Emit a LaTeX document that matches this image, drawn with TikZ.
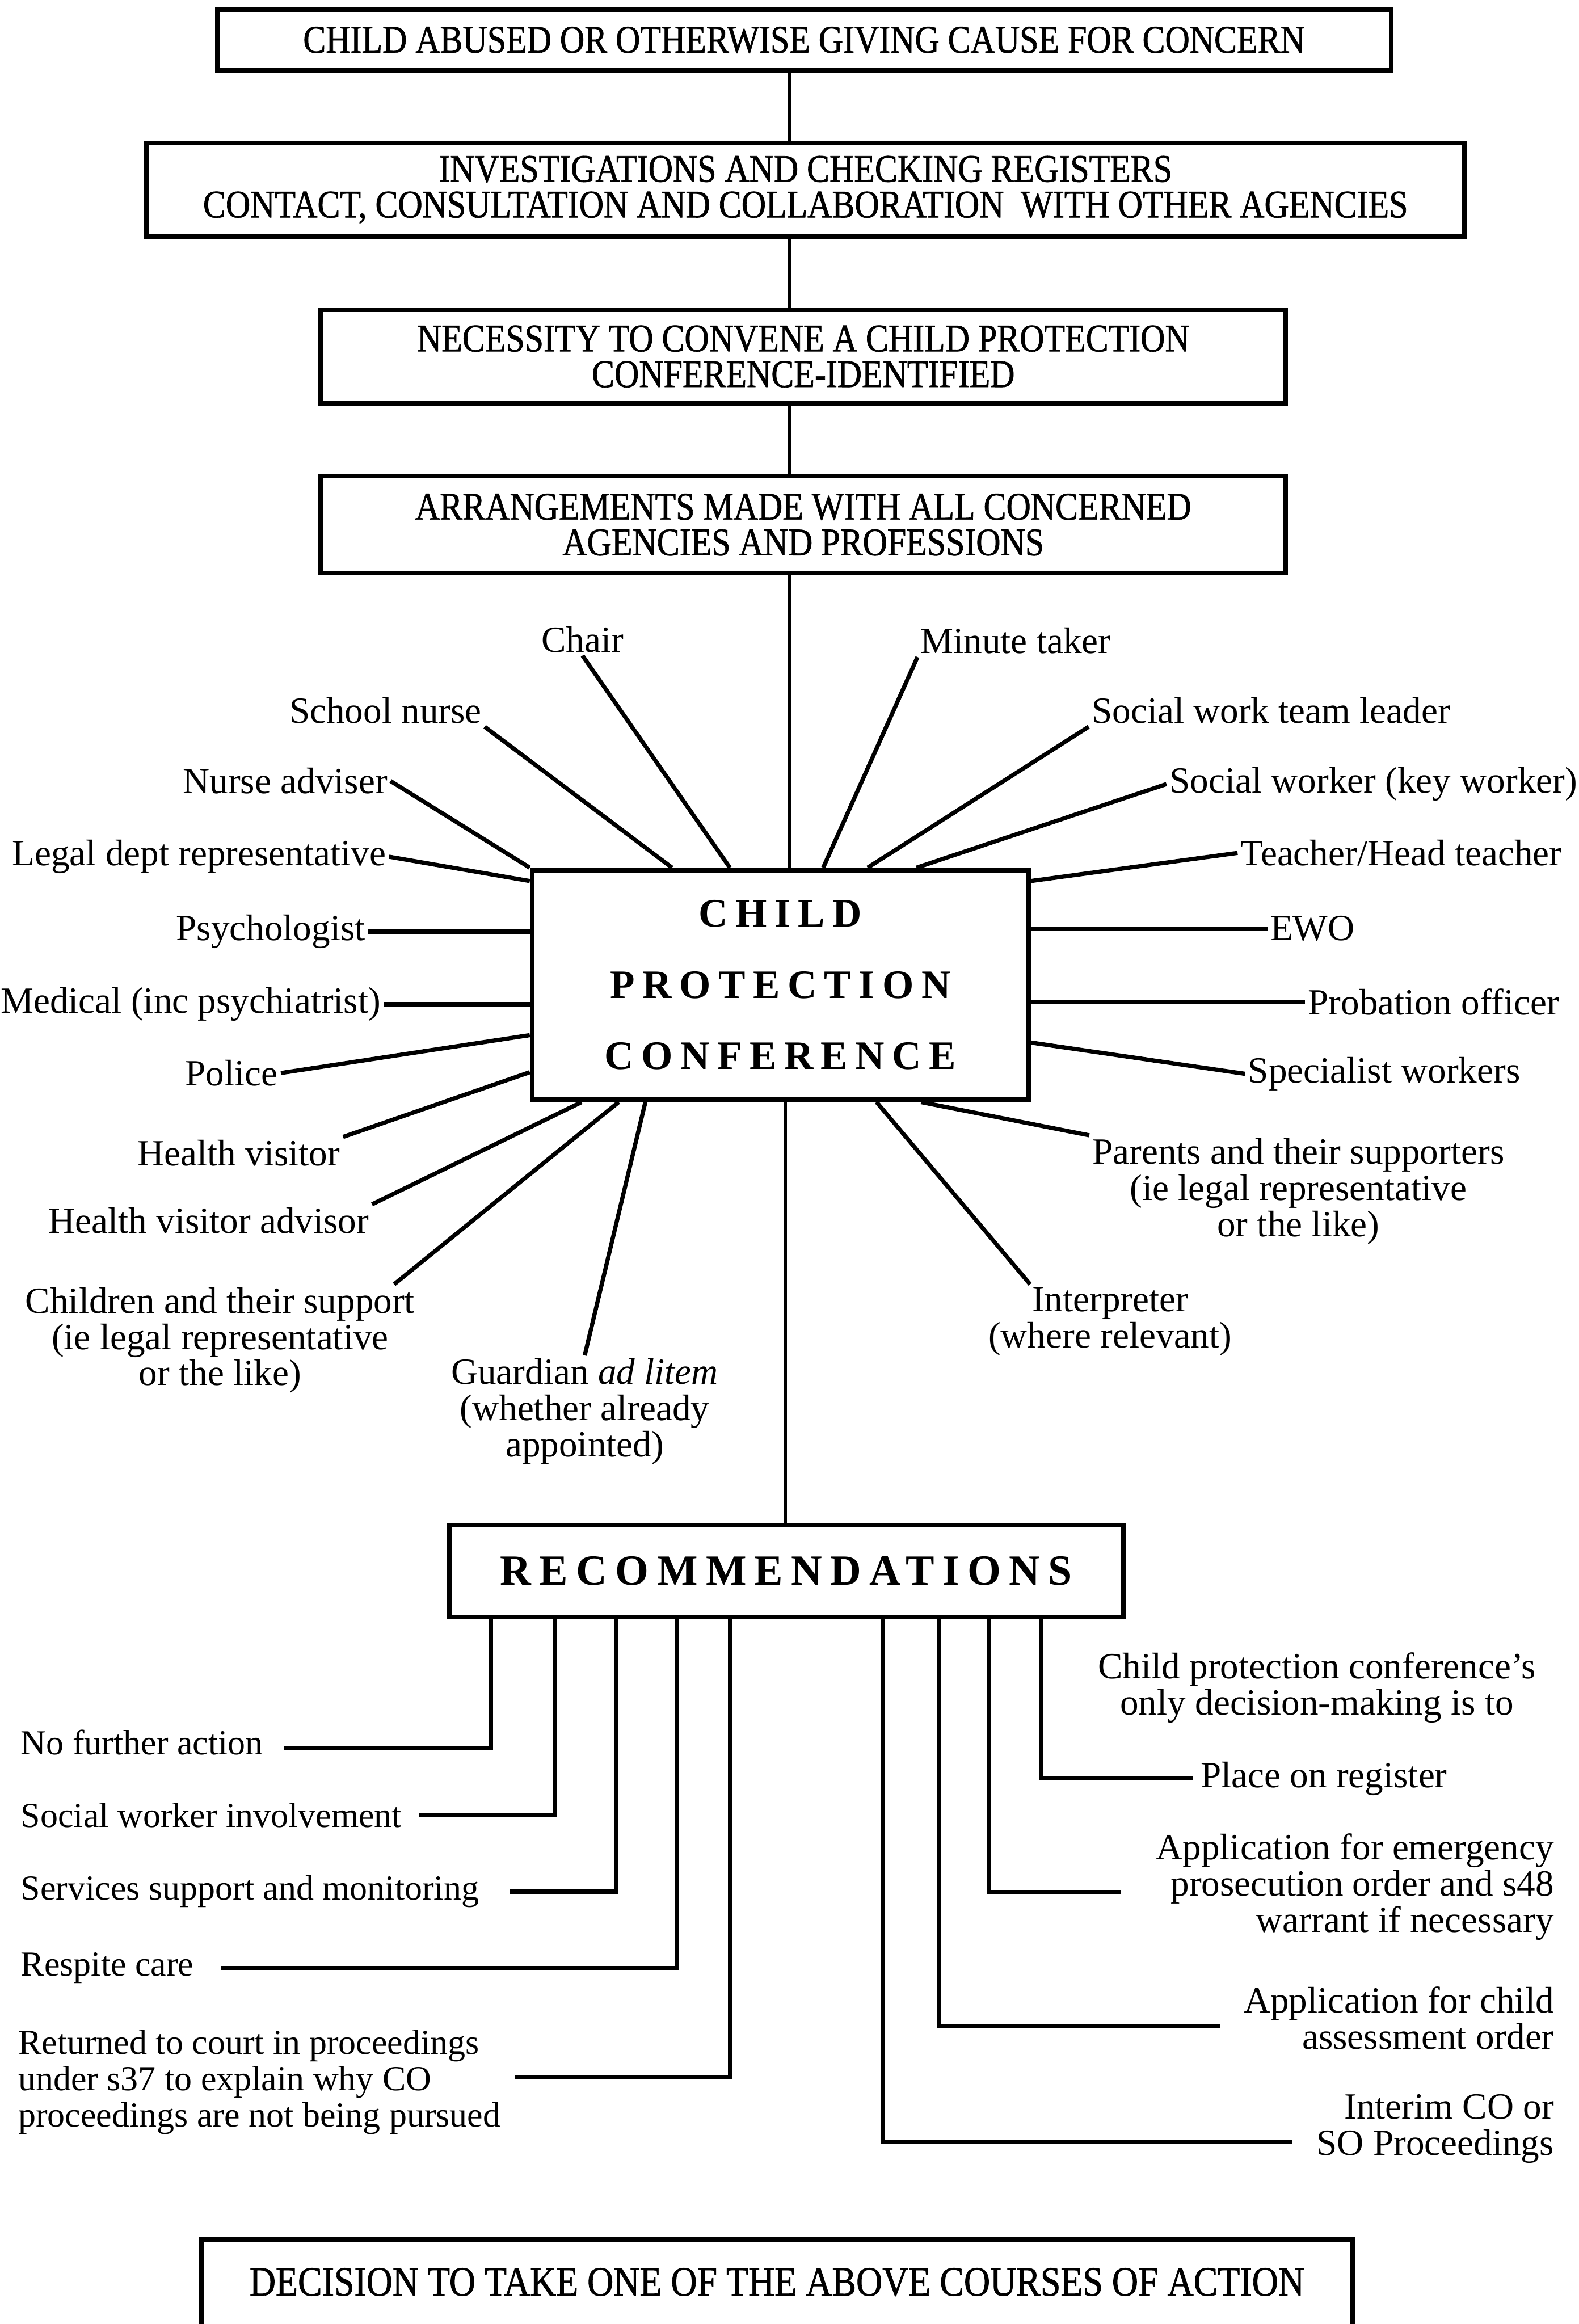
\documentclass[tikz,border=0pt]{standalone}
\usepackage{fontspec}
\setmainfont{Liberation Serif}
\newfontfamily\spacedfont[LetterSpace=19]{Liberation Serif}
\newfontfamily\boxfont[FakeStretch=0.87,FakeBold=1]{Liberation Serif}
\usetikzlibrary{calc}

\begin{document}
\begin{tikzpicture}[
    stagebox/.style={draw, line width=1.8pt, inner sep=0pt, align=center,
        font=\boxfont\fontsize{15}{13.7}\selectfont},
    hubbox/.style={draw, line width=1.8pt, inner sep=0pt, align=center},
    who/.style={inner sep=1pt, font=\fontsize{14.2}{13.9}\selectfont},
    outcome/.style={inner sep=1pt, font=\fontsize{13.5}{13.9}\selectfont},
    link/.style={line width=1.3pt},
    spoke/.style={line width=1.6pt},
    branch/.style={line width=1.6pt}]

        \useasboundingbox (0,0) rectangle (21.30,-31.36);
        \clip (0,0) rectangle (21.30,-31.36);

        \node[stagebox, minimum width=15.84cm, minimum height=0.81cm] (abuse) at (10.85,-0.54) {CHILD ABUSED OR OTHERWISE GIVING CAUSE FOR CONCERN};
        \node[stagebox, minimum width=17.78cm, minimum height=1.26cm] (invest) at (10.87,-2.56) {INVESTIGATIONS AND CHECKING REGISTERS\\CONTACT, CONSULTATION AND COLLABORATION~ WITH OTHER AGENCIES};
        \node[stagebox, minimum width=13.02cm, minimum height=1.26cm] (convene) at (10.84,-4.81) {NECESSITY TO CONVENE A CHILD PROTECTION\\CONFERENCE-IDENTIFIED};
        \node[stagebox, minimum width=13.02cm, minimum height=1.31cm] (arrange) at (10.84,-7.08) {ARRANGEMENTS MADE WITH ALL CONCERNED\\AGENCIES AND PROFESSIONS};

        \node[hubbox, font=\spacedfont\bfseries\fontsize{15.5}{27.3}\selectfont, minimum width=6.70cm, minimum height=3.10cm] (cpc) at (10.53,-13.29) {CHILD\\PROTECTION\\CONFERENCE};

        \coordinate (spine) at (10.66,0);
        \coordinate (spine2) at (10.60,0);
        \begin{scope}[link]
        \draw (abuse.south -| spine) -- (invest.north -| spine);
        \draw (invest.south -| spine) -- (convene.north -| spine);
        \draw (convene.south -| spine) -- (arrange.north -| spine);
        \draw (arrange.south -| spine) -- (cpc.north -| spine);
        \end{scope}

        \node[who, anchor=base] (chair) at (7.86,-8.80) {Chair};
        \node[who, anchor=base west] (minute) at (12.38,-8.82) {Minute taker};
        \node[who, anchor=base east] (school) at (6.54,-9.76) {School nurse};
        \node[who, anchor=base west] (teamlead) at (14.69,-9.76) {Social work team leader};
        \node[who, anchor=base east] (nurse) at (5.27,-10.71) {Nurse adviser};
        \node[who, anchor=base west] (keyworker) at (15.74,-10.70) {Social worker (key worker)};
        \node[who, anchor=base east] (legal) at (5.25,-11.68) {Legal dept representative};
        \node[who, anchor=base west] (teacher) at (16.70,-11.68) {Teacher/Head teacher};
        \node[who, anchor=base east] (psych) at (4.97,-12.69) {Psychologist};
        \node[who, anchor=base west] (ewo) at (17.10,-12.69) {EWO};
        \node[who, anchor=base east] (medical) at (5.18,-13.67) {Medical (inc psychiatrist)};
        \node[who, anchor=base west] (probation) at (17.61,-13.69) {Probation officer};
        \node[who, anchor=base east] (police) at (3.79,-14.65) {Police};
        \node[who, anchor=base west] (specialist) at (16.80,-14.61) {Specialist workers};
        \node[who, anchor=base east] (hvisitor) at (4.63,-15.73) {Health visitor};
        \node[who, anchor=base east] (hvadvisor) at (5.02,-16.64) {Health visitor advisor};
        \node[who, anchor=north, align=center] (parents) at (17.52,-15.32) {Parents and their supporters\\(ie legal representative\\or the like)};
        \node[who, anchor=north, align=center] (interp) at (14.98,-17.33) {Interpreter\\(where relevant)};
        \node[who, anchor=north, align=center] (children) at (2.97,-17.33) {Children and their support\\(ie legal representative\\or the like)};
        \node[who, anchor=north, align=center] (guardian) at (7.89,-18.29) {Guardian \textit{ad litem}\\(whether already\\appointed)};

        \begin{scope}[spoke]
        \draw (chair.south) -- ($(cpc.north west)+(2.70,0)$);
        \draw (minute.south west) -- ($(cpc.north west)+(3.96,0)$);
        \draw (school.south east) -- ($(cpc.north west)+(1.92,0)$);
        \draw (teamlead.south west) -- ($(cpc.north west)+(4.56,0)$);
        \draw (nurse.east) -- (cpc.north west);
        \draw (keyworker.west) -- ($(cpc.north west)+(5.22,0)$);
        \draw (legal.east) -- ($(cpc.north west)+(0,-0.18)$);
        \draw (teacher.west) -- ($(cpc.north east)+(0,-0.18)$);
        \draw (psych.east) -- (psych.east -| cpc.west);
        \draw (ewo.west) -- (ewo.west -| cpc.east);
        \draw (medical.east) -- (medical.east -| cpc.west);
        \draw (probation.west) -- (probation.west -| cpc.east);
        \draw (police.east) -- ($(cpc.north west)+(0,-2.26)$);
        \draw (specialist.west) -- ($(cpc.north east)+(0,-2.36)$);
        \draw (hvisitor.north east) -- ($(cpc.north west)+(0,-2.76)$);
        \draw (hvadvisor.north east) -- ($(cpc.south west)+(0.70,0)$);
        \draw ($(children.north east)+(-0.32,0)$) -- ($(cpc.south west)+(1.20,0)$);
        \draw (guardian.north) -- ($(cpc.south west)+(1.56,0)$);
        \draw ($(interp.north)+(-1.08,0)$) -- ($(cpc.south west)+(4.68,0)$);
        \draw (parents.north west) -- ($(cpc.south west)+(5.28,0)$);
        \end{scope}

        \node[hubbox, font=\spacedfont\bfseries\fontsize{16.5}{16.5}\selectfont, minimum width=9.10cm, minimum height=1.24cm] (rec) at (10.61,-21.20) {RECOMMENDATIONS};
        \draw[link] (cpc.south -| spine2) -- (rec.north -| spine2);

        \node[outcome, anchor=base west] (nofurther) at (0.24,-23.68) {No further action};
        \node[outcome, anchor=base west] (swinvolve) at (0.24,-24.66) {Social worker involvement};
        \node[outcome, anchor=base west] (services) at (0.24,-25.64) {Services support and monitoring};
        \node[outcome, anchor=base west] (respite) at (0.24,-26.66) {Respite care};
        \node[outcome, anchor=north west, align=left] (returned) at (0.205,-27.35) {Returned to court in proceedings\\under s37 to explain why CO\\proceedings are not being pursued};
        \node[who, anchor=north, align=center] (onlydecision) at (17.77,-22.26) {Child protection conference's\\only decision-making is to};
        \node[who, anchor=base west] (register) at (16.16,-24.12) {Place on register};
        \node[who, anchor=north east, align=right] (emergency) at (21.01,-24.70) {Application for emergency\\prosecution order and s48\\warrant if necessary};
        \node[who, anchor=north east, align=right] (assessment) at (21.01,-26.77) {Application for child\\assessment order};
        \node[who, anchor=north east, align=right] (interim) at (21.01,-28.22) {Interim CO or\\SO Proceedings};

        \begin{scope}[branch]
        \draw ($(rec.south west)+(0.60,0)$) |- ($(nofurther.east)+(0.24,-0.07)$);
        \draw ($(rec.south west)+(1.46,0)$) |- ($(swinvolve.east)+(0.19,0)$);
        \draw ($(rec.south west)+(2.28,0)$) |- ($(services.east)+(0.37,0)$);
        \draw ($(rec.south west)+(3.10,0)$) |- ($(respite.east)+(0.33,0)$);
        \draw ($(rec.south west)+(3.82,0)$) |- ($(returned.east)+(0.15,0.07)$);
        \draw ($(rec.south west)+(5.88,0)$) |- ($(interim.west)+(-0.29,-0.18)$);
        \draw ($(rec.south west)+(6.64,0)$) |- ($(assessment.west)+(-0.27,-0.10)$);
        \draw ($(rec.south west)+(7.32,0)$) |- ($(emergency.west)+(-0.44,-0.07)$);
        \draw ($(rec.south west)+(8.02,0)$) |- ($(register.west)+(-0.07,0)$);
        \end{scope}

        \node[stagebox, font=\boxfont\fontsize{16}{14.2}\selectfont, minimum width=15.53cm, minimum height=1.6cm, text depth=0.46cm] (decide) at (10.485,-31.02) {DECISION TO TAKE ONE OF THE ABOVE COURSES OF ACTION};

\end{tikzpicture}
\end{document}
